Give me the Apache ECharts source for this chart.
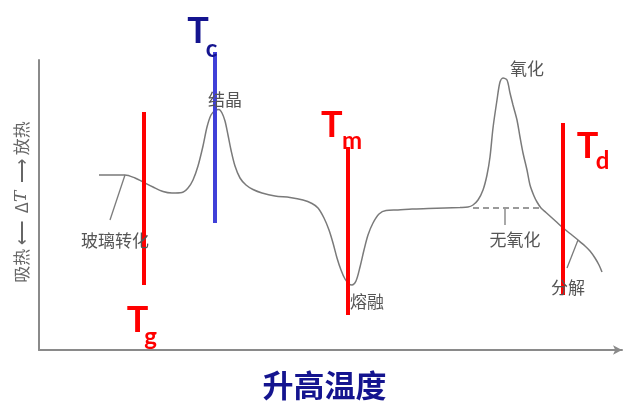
<!DOCTYPE html>
<html><head><meta charset="utf-8">
<script src="https://cdn.jsdelivr.net/npm/echarts@6/dist/echarts.min.js"></script>
<style>html,body{margin:0;padding:0;background:#fff}#c{width:642px;height:412px}</style>
</head><body><div id="c"></div>
<script>
// DSC curve (temperature units, heat-flow units)
const curveX = [60,86,96,104,114,124,133,143,149,154,159,164,168,172,176,180,183,186,189,192,196,201,207,214,223,236,251,264,273,279,285,290,294,298,302,306,310,313,317,321,325,329,334,340,347,359,373,389,406,421,429,434,439,444,448,451,454,458,461,464,468,471,474,478,481,484,488,491,495,498,502,507,512,517,523,531,539,546,551,556,560,563];
const curveY = [175,175,172,168,163,158.5,157,157.5,162,170,184,204,223,235,239.5,240.5,237,229,215,200,184,172,165,160.5,157,154,152.5,150,146.5,142,132,120,107,92,80,71,66,65,69,83,100,115,127,136,139.5,140,141,141.5,142,142.5,143,145,150,160,175,193,222,250,268,272,270,257,245,230,213,197,180,165,154,148,142,137.5,133,128.5,123,116.5,110,104,99,92,85,78];
// baseline without oxidation (dashed)
const baseX = [434, 501];
const baseY = [142, 142];
// leader lines for notes
const leadGlassX = [86, 71],  leadGlassY = [175, 130];
const leadNoOxX = [466, 466], leadNoOxY = [141, 125];
const leadDecX = [539, 528],  leadDecY = [110, 82];
// characteristic temperatures
const tSubs = ['g', 'c', 'm', 'd'];
const tX = [105, 176, 309, 524];
const tTop = [238, 298, 203, 227];
const tBottom = [65, 127, 35, 55];
const tLetterX = [98.5, 159, 292.7, 548.5];
const tLetterY = [30, 318.5, 225, 203.5];
const tSubX = [111.5, 172.5, 313, 563.5];
const tSubY = [13, 301, 208.5, 189];
// notes
const noteTexts = ['玻璃转化', '结晶', '熔融', '氧化', '无氧化', '分解'];
const noteX = [76, 186, 328, 488, 476, 529];
const noteY = [109, 250, 48, 281, 110, 62];

const RED = '#ff0000', BLUE_LINE = '#4040d8', NAVY = '#14148f';
const tColors = [RED, BLUE_LINE, RED, RED];
const tTextColors = [RED, NAVY, RED, RED];
const pair = (xs, ys) => xs.map((x, i) => [x, ys[i]]);
const hidden = {color:'rgba(0,0,0,0)', opacity:1};

const series = [];
series.push({type:'line', data: pair(curveX, curveY), smooth: 0.3, symbol:'none',
  lineStyle:{color:'#7a7a7a', width:1.5}, silent:true, z:2});
series.push({type:'line', data: pair(baseX, baseY), symbol:'none',
  lineStyle:{color:'#7a7a7a', width:1.5, type:[6,4]}, silent:true, z:2});
[[leadGlassX, leadGlassY], [leadNoOxX, leadNoOxY], [leadDecX, leadDecY]].forEach(([xs, ys]) => {
  series.push({type:'line', data: pair(xs, ys), symbol:'none',
    lineStyle:{color:'#7a7a7a', width:1.3}, silent:true, z:2});
});
tX.forEach((x, i) => {
  series.push({type:'line', data: [[x, tBottom[i]], [x, tTop[i]]], symbol:'none', clip:false,
    lineStyle:{color: tColors[i], width:4}, silent:true, z:3});
  series.push({type:'scatter', symbolSize:1, itemStyle:hidden, silent:true, z:5, clip:false,
    data: [
      {value:[tLetterX[i], tLetterY[i]], name:'T', label:{fontSize:36}},
      {value:[tSubX[i], tSubY[i]], name:tSubs[i], label:{fontSize:24}}
    ],
    label:{show:true, position:'inside', formatter: p => p.name, color: tTextColors[i],
      fontWeight:'bold', fontFamily:'Lato', textBorderWidth:0}});
});
series.push({type:'scatter', symbolSize:1, itemStyle:hidden, silent:true, z:5,
  data: noteTexts.map((t, i) => ({value:[noteX[i], noteY[i]], name:t})),
  label:{show:true, position:'inside', formatter: p => p.name, color:'#555',
    fontSize:17, fontFamily:'Noto Sans CJK SC', textBorderWidth:0}});

const chart = echarts.init(document.getElementById('c'));
chart.setOption({
  animation:false,
  backgroundColor:'#fff',
  grid:{left:39, right:20, top:60, bottom:62},
  xAxis:{type:'value', min:0, max:583,
    axisLine:{show:true, lineStyle:{color:'#8a8a8a', width:2}, symbol:['none','arrow'], symbolSize:[7,9]},
    axisTick:{show:false}, axisLabel:{show:false}, splitLine:{show:false},
    name:'升高温度', nameLocation:'middle', nameGap:20,
    nameTextStyle:{color:NAVY, fontSize:31, fontWeight:'bold', fontFamily:'Noto Sans CJK SC', padding:[0,12,0,0]}},
  yAxis:{type:'value', min:0, max:290,
    axisLine:{show:true, lineStyle:{color:'#8a8a8a', width:2}},
    axisTick:{show:false}, axisLabel:{show:false}, splitLine:{show:false},
    name:'吸热 ⟵  Δ{i|T}  ⟶ 放热', nameLocation:'middle', nameRotate:90, nameGap:9,
    nameTextStyle:{color:'#666', fontSize:17, fontFamily:'Noto Sans CJK SC', padding:[0,0,0,6],
      rich:{i:{fontStyle:'italic', fontFamily:'DejaVu Serif', fontSize:17, color:'#666'}}}},
  series
});
</script></body></html>
